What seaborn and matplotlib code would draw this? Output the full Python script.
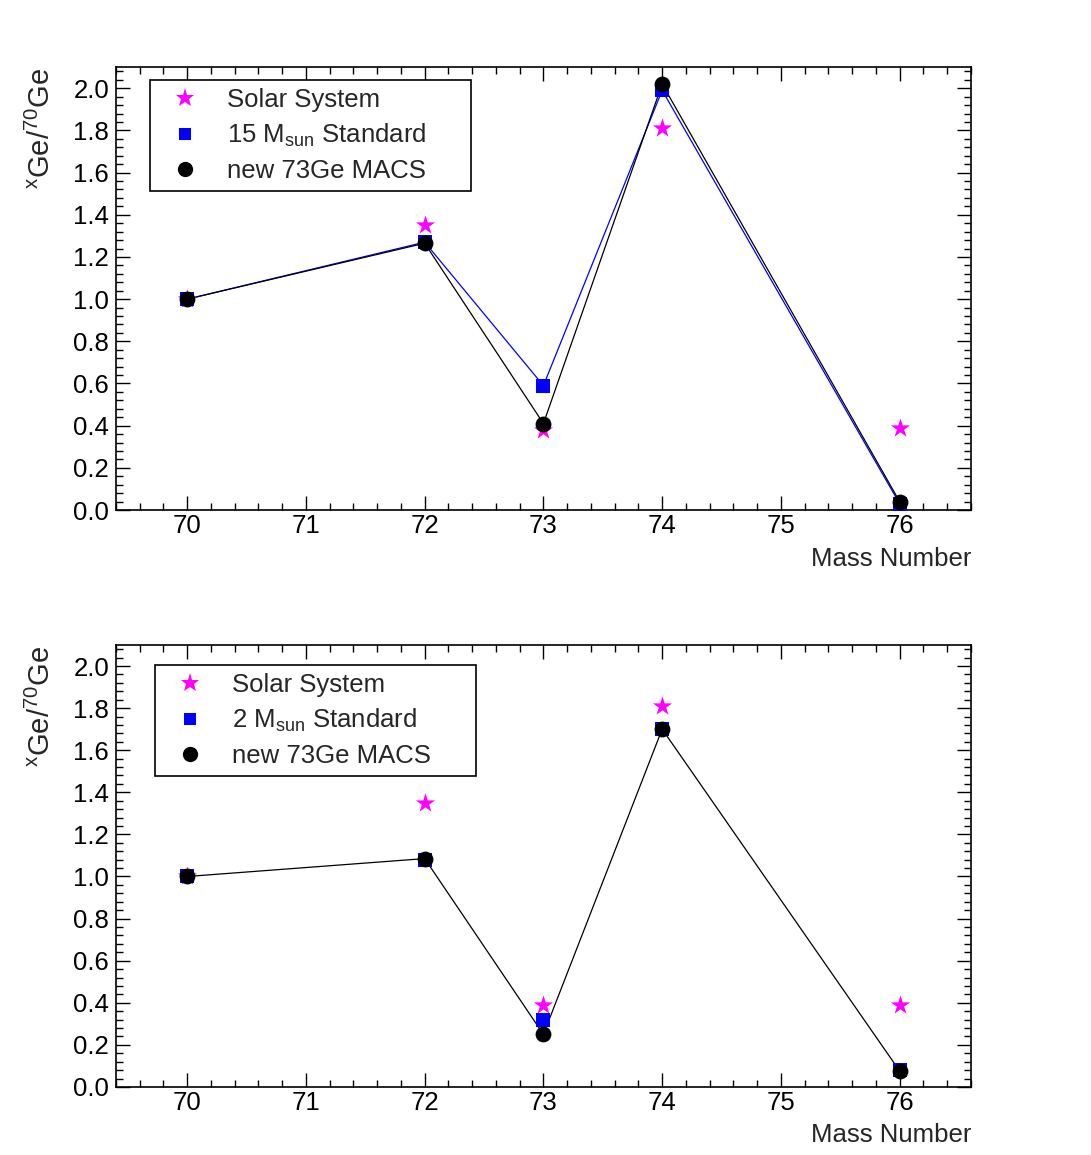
import numpy as np
import pandas as pd
import seaborn as sns
import matplotlib.pyplot as plt
from matplotlib.lines import Line2D
from matplotlib.ticker import MultipleLocator

sns.set_style("ticks")
plt.rcParams['font.family'] = ['Liberation Sans', 'DejaVu Sans']
plt.rcParams['mathtext.default'] = 'regular'

# mass numbers of the Ge isotopes
mass = [70, 72, 73, 74, 76]

# top panel: 15 Msun model
solar_top = [1.0, 1.35, 0.38, 1.81, 0.39]
std15 = [1.0, 1.27, 0.59, 1.99, 0.03]
macs_top = [1.0, 1.265, 0.41, 2.02, 0.04]

# bottom panel: 2 Msun model
solar_bot = [1.0, 1.35, 0.39, 1.81, 0.39]
std2 = [1.0, 1.08, 0.32, 1.70, 0.08]
macs_bot = [1.0, 1.085, 0.25, 1.70, 0.076]

FS = 18.5
fig = plt.figure(figsize=(10.91, 11.55), dpi=100)
ax1 = fig.add_axes([0.1063, 0.5584, 0.7836, 0.3835])
ax2 = fig.add_axes([0.1063, 0.0589, 0.7836, 0.3827])

MAG = '#ff00ff'
BLU = '#0000ff'


def panel(ax, solar, std, macs, std_label, std_line):
    df = pd.DataFrame({'mass': mass, 'solar': solar, 'std': std, 'macs': macs})
    if std_line:
        sns.lineplot(data=df, x='mass', y='std', ax=ax, color=BLU, lw=0.9, sort=False)
    sns.lineplot(data=df, x='mass', y='macs', ax=ax, color='black', lw=0.9, sort=False)
    sns.scatterplot(data=df, x='mass', y='solar', ax=ax, color=MAG, marker='*',
                    s=210, linewidth=0, zorder=3)
    sns.scatterplot(data=df, x='mass', y='std', ax=ax, color=BLU, marker='s',
                    s=90, linewidth=0, zorder=4)
    sns.scatterplot(data=df, x='mass', y='macs', ax=ax, color='black', marker='o',
                    s=130, linewidth=0, zorder=5)

    ax.set_xlim(69.4, 76.6)
    ax.set_ylim(0, 2.1)
    ax.xaxis.set_major_locator(MultipleLocator(1))
    ax.xaxis.set_minor_locator(MultipleLocator(0.2))
    ax.yaxis.set_minor_locator(MultipleLocator(0.04))
    ax.set_yticks(np.arange(0, 2.01, 0.2))
    ax.set_yticklabels([f'{v:.1f}' for v in np.arange(0, 2.01, 0.2)])
    ax.tick_params(which='both', direction='in', top=True, right=True,
                   labelsize=FS, width=1, colors='black')
    ax.tick_params(which='major', length=10)
    ax.tick_params(which='minor', length=5)
    ax.tick_params(axis='x', pad=3)
    ax.tick_params(axis='y', pad=5)
    for sp in ax.spines.values():
        sp.set_linewidth(1.2)
        sp.set_color('black')
    ax.set_xlabel('Mass Number', fontsize=FS, loc='right', labelpad=6)
    ax.set_ylabel(r'$^{x}$Ge/$^{70}$Ge', fontsize=21, loc='top', labelpad=12)

    handles = [
        Line2D([], [], ls='none', marker='*', color=MAG, markersize=14, mew=0),
        Line2D([], [], ls='none', marker='s', color=BLU, markersize=9, mew=0),
        Line2D([], [], ls='none', marker='o', color='black', markersize=11, mew=0),
    ]
    labels = ['Solar System', std_label, 'new 73Ge MACS']
    return handles, labels


def add_legend(ax, h, l, x0, y1):
    leg = ax.legend(h, l, loc='upper left', bbox_to_anchor=(x0, y1 - 0.3, 0.375, 0.3),
                    mode='expand', fontsize=FS, frameon=True, fancybox=False,
                    framealpha=1, edgecolor='black', borderaxespad=0,
                    handlelength=2.1, handletextpad=0.6, labelspacing=0.4,
                    borderpad=0.3)
    leg.get_frame().set_linewidth(1.2)


h, l = panel(ax1, solar_top, std15, macs_top, r'15 M$_{sun}$ Standard', True)
add_legend(ax1, h, l, 0.040, 0.971)

h, l = panel(ax2, solar_bot, std2, macs_bot, r'2 M$_{sun}$ Standard', False)
add_legend(ax2, h, l, 0.046, 0.955)

fig.savefig('out.png', dpi=100, facecolor='white')
